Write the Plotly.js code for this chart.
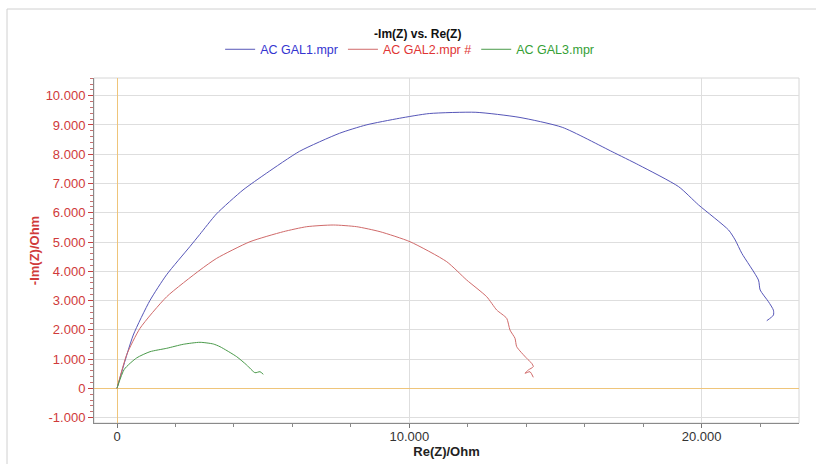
<!DOCTYPE html>
<html>
<head>
<meta charset="utf-8">
<script src="https://cdn.plot.ly/plotly-3.0.1.min.js"></script>
<style>html,body{margin:0;padding:0;background:#fff;}#chart{width:816px;height:464px;}</style>
</head>
<body>
<div id="chart"></div>
<script>
// Series 1: AC GAL1.mpr
const gal1Re = [0, 120, 556, 1126, 1696, 2491, 2833, 3403, 4311, 5109, 6246, 7611, 8522, 9659, 10683, 12276, 13754, 15232, 16939, 17850, 19215, 19898, 20922, 21150, 21375, 21945, 22003, 22287, 22457, 22457, 22229];
const gal1Im = [0, 420, 1820, 3000, 3880, 4840, 5260, 5960, 6778, 7348, 8100, 8715, 9000, 9228, 9390, 9433, 9262, 8920, 8086, 7632, 6890, 6265, 5410, 5068, 4614, 3700, 3360, 2960, 2670, 2500, 2310];
// Series 2: AC GAL2.mpr #
const gal2Re = [0, 332, 787, 1700, 2840, 3411, 4550, 5690, 6490, 7400, 8200, 9000, 10024, 11280, 11964, 12648, 12990, 13332, 13445, 13616, 13674, 14016, 14187, 14242, 14071, 13958, 14129, 14242];
const gal2Im = [0, 1150, 2050, 3130, 4043, 4443, 5010, 5352, 5523, 5581, 5523, 5352, 5010, 4327, 3700, 3130, 2676, 2392, 1990, 1709, 1422, 1025, 854, 738, 625, 513, 567, 376];
// Series 3: AC GAL3.mpr
const gal3Re = [0, 250, 674, 1129, 1700, 2268, 2840, 3295, 3524, 4095, 4437, 4721, 4892, 5005];
const gal3Im = [0, 650, 1040, 1251, 1367, 1504, 1572, 1514, 1422, 1080, 796, 533, 567, 478];

const seriesNames = ['AC GAL1.mpr', 'AC GAL2.mpr #', 'AC GAL3.mpr'];
const yTickVals = [-1000, 0, 1000, 2000, 3000, 4000, 5000, 6000, 7000, 8000, 9000, 10000];
const yTickText = ['-1.000', '0', '1.000', '2.000', '3.000', '4.000', '5.000', '6.000', '7.000', '8.000', '9.000', '10.000'];
const xTickVals = [0, 10000, 20000];
const xTickText = ['0', '10.000', '20.000'];

const lineColors = ['#5656b8', '#d06a6a', '#4a9a4a'];
const textColors = ['#3535d0', '#e03535', '#35a035'];

const xs = [gal1Re, gal2Re, gal3Re];
const ys = [gal1Im, gal2Im, gal3Im];

const traces = xs.map((x, i) => ({
  type: 'scatter',
  mode: 'lines',
  x: x,
  y: ys[i],
  name: '<span style="color:' + textColors[i] + '">' + seriesNames[i] + '</span>',
  line: {color: lineColors[i], width: 1, shape: 'spline', smoothing: 0.6},
  hoverinfo: 'x+y'
}));

const layout = {
  width: 816,
  height: 464,
  margin: {l: 94, r: 17, t: 78, b: 41},
  paper_bgcolor: '#ffffff',
  plot_bgcolor: '#ffffff',
  font: {family: 'Liberation Sans, Arial, sans-serif', size: 12, color: '#333'},
  title: {
    text: '-Im(Z) vs. Re(Z)',
    font: {size: 12, color: '#111', weight: 'bold'},
    xref: 'container', x: 0.512, xanchor: 'center',
    yref: 'container', y: 0.928, yanchor: 'middle'
  },
  showlegend: true,
  legend: {
    orientation: 'h',
    xref: 'container', x: 0.502, xanchor: 'center',
    yref: 'container', y: 0.893, yanchor: 'middle',
    font: {size: 12.5},
    itemwidth: 30,
    tracegroupgap: 0,
    bgcolor: 'rgba(0,0,0,0)'
  },
  xaxis: {
    range: [-787, 23332],
    tickvals: xTickVals,
    ticktext: xTickText,
    ticks: 'outside',
    ticklen: 4,
    tickcolor: '#777',
    tickfont: {size: 13, color: '#333'},
    ticklabelstandoff: -3,
    showgrid: true,
    gridcolor: '#dedede',
    gridwidth: 1,
    zeroline: true,
    zerolinecolor: '#efc57a',
    zerolinewidth: 1,
    showline: true,
    linecolor: '#8a8a8a',
    linewidth: 1,
    minor: {ticks: 'outside', dtick: 2000, tick0: 0, ticklen: 3, tickcolor: '#888', showgrid: false},
    title: {text: 'Re(Z)/Ohm', font: {size: 13, color: '#222', weight: 'bold'}, standoff: 2}
  },
  yaxis: {
    range: [-1186, 10605],
    tickvals: yTickVals,
    ticktext: yTickText,
    ticks: 'outside',
    ticklen: 5,
    tickcolor: '#c84040',
    tickfont: {size: 13, color: '#d03a3a'},
    showgrid: true,
    gridcolor: '#dedede',
    gridwidth: 1,
    zeroline: true,
    zerolinecolor: '#efc57a',
    zerolinewidth: 1,
    showline: true,
    linecolor: '#8a8a8a',
    linewidth: 1,
    minor: {ticks: 'outside', dtick: 200, tick0: 0, ticklen: 3, tickcolor: '#c87070', showgrid: false},
    title: {text: '-Im(Z)/Ohm', font: {size: 13, color: '#d03a3a', weight: 'bold'}, standoff: 3}
  },
  shapes: [
    {type: 'rect', xref: 'paper', yref: 'paper', x0: 0, x1: 1, y0: 0, y1: 1,
     line: {color: '#d6d6d6', width: 1}, layer: 'below'},
    {type: 'rect', xref: 'paper', yref: 'paper', x0: -0.1234, x1: 1.04, y0: -0.2, y1: 1.2,
     line: {color: '#d0d0d0', width: 1}, layer: 'below'}
  ]
};

Plotly.newPlot('chart', traces, layout, {displayModeBar: false, staticPlot: true});
</script>
</body>
</html>
